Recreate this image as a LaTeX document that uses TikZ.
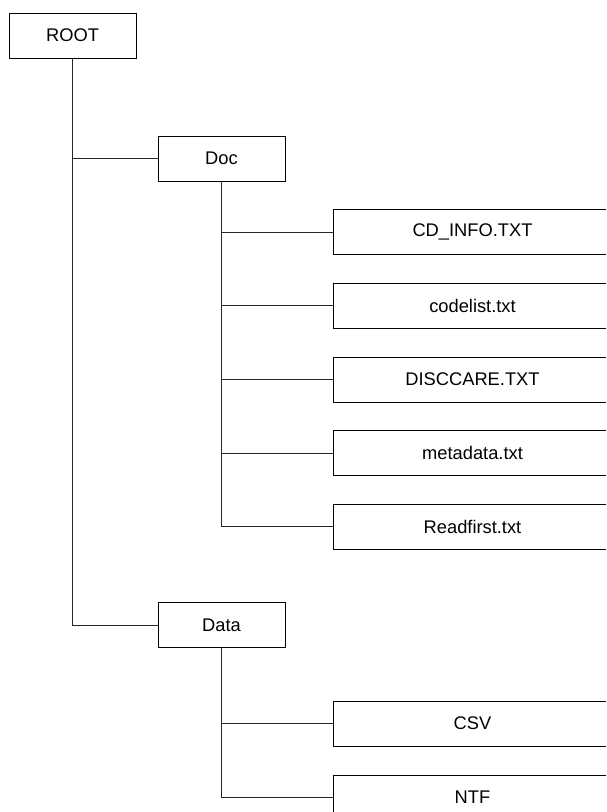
\documentclass[tikz,border=0pt]{standalone}
\usepackage{fontspec}
\setmainfont{Liberation Sans}
\usepackage{tikz}

\tikzset{
    folder/.style={draw=black,line width=0.9pt,fill=white,minimum width=127pt,minimum height=45pt,inner sep=0pt,font=\fontsize{18.3}{20}\selectfont},
    file/.style={folder,minimum width=279pt},
    branch/.style={draw=black!85,line width=0.9pt}
}

\begin{document}
\begin{tikzpicture}[x=1pt,y=-1pt]
    % Page
    \useasboundingbox (0,0) rectangle (606,812);
    \clip (0,0) rectangle (606,812);
    % Folders
    \node[folder] (root) at (72.5,35.5) {ROOT};
    \node[folder] (doc) at (221.5,158.5) {Doc};
    \node[folder] (data) at (221.5,625) {Data};
    % Files in Doc
    \node[file] (cdinfo) at (472.5,232) {CD\_INFO.TXT};
    \node[file] (codelist) at (472.5,305.5) {codelist.txt};
    \node[file] (disccare) at (472.5,379.5) {DISCCARE.TXT};
    \node[file] (metadata) at (472.5,453) {metadata.txt};
    \node[file] (readfirst) at (472.5,526.5) {Readfirst.txt};
    % Files in Data
    \node[file] (csv) at (472.5,723.5) {CSV};
    \node[file] (ntf) at (472.5,797.5) {NTF};
    % Branches
    \draw[branch] (root.south) |- (doc.west);
    \draw[branch] (root.south) |- (data.west);
    \draw[branch] (doc.south) |- (cdinfo.west);
    \draw[branch] (doc.south) |- (codelist.west);
    \draw[branch] (doc.south) |- (disccare.west);
    \draw[branch] (doc.south) |- (metadata.west);
    \draw[branch] (doc.south) |- (readfirst.west);
    \draw[branch] (data.south) |- (csv.west);
    \draw[branch] (data.south) |- (ntf.west);
\end{tikzpicture}
\end{document}
